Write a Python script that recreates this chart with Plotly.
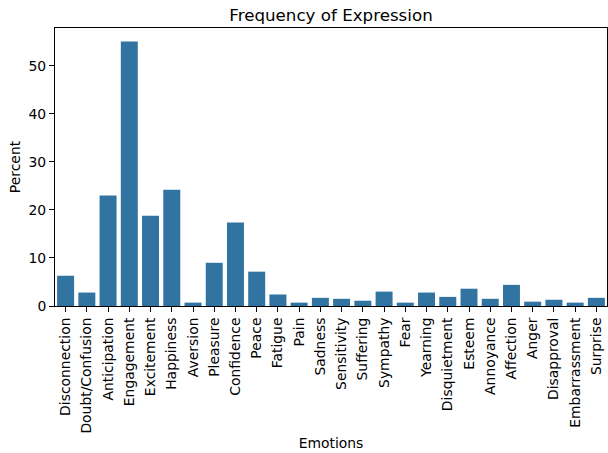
import plotly.graph_objects as go

emotions = ["Disconnection", "Doubt/Confusion", "Anticipation", "Engagement", "Excitement",
            "Happiness", "Aversion", "Pleasure", "Confidence", "Peace", "Fatigue", "Pain",
            "Sadness", "Sensitivity", "Suffering", "Sympathy", "Fear", "Yearning",
            "Disquietment", "Esteem", "Annoyance", "Affection", "Anger", "Disapproval",
            "Embarrassment", "Surprise"]
percent = [6.3, 2.8, 23.0, 55.1, 18.8, 24.2, 0.7, 9.0, 17.4, 7.15, 2.4, 0.7,
           1.7, 1.5, 1.1, 3.0, 0.7, 2.8, 1.9, 3.6, 1.5, 4.4, 0.9, 1.3, 0.7, 1.7]

font = "DejaVu Sans"
fig = go.Figure(go.Bar(x=emotions, y=percent, marker_color="#3274a1",
                       marker_line_width=0, width=0.8))

fig.update_layout(
    width=608, height=453,
    margin=dict(l=55, r=1, t=28, b=147),
    paper_bgcolor="white", plot_bgcolor="white",
    font=dict(family=font, size=13.9, color="black"),
    title=dict(text="Frequency of Expression", x=0.5, xref="paper",
               y=1 - 15 / 453, yanchor="middle", font=dict(size=16.7, color="black")),
    showlegend=False,
    bargap=0.2,
)
fig.update_xaxes(
    range=[-0.5, len(emotions) - 0.5], tickangle=-90, ticks="outside", ticklen=5,
    tickcolor="black", showline=True, linecolor="black", linewidth=1, mirror=True,
    showgrid=False, automargin=False,
    title=dict(text="Emotions", standoff=5, font=dict(size=13.9)),
    tickfont=dict(size=13.9),
)
fig.update_yaxes(
    range=[0, 57.9], tickvals=[0, 10, 20, 30, 40, 50], ticks="outside", ticklen=5,
    tickcolor="black", showline=True, linecolor="black", linewidth=1, mirror=True,
    showgrid=False, zeroline=False, automargin=False,
    title=dict(text="Percent", standoff=4, font=dict(size=13.9)),
    tickfont=dict(size=13.9),
)
fig.write_html(
    "out.html",
    config={"displayModeBar": False},
    post_script="document.body.style.margin='0';document.body.style.padding='0';"
                "document.body.style.overflow='hidden';"
                "document.documentElement.style.overflow='hidden';",
)
